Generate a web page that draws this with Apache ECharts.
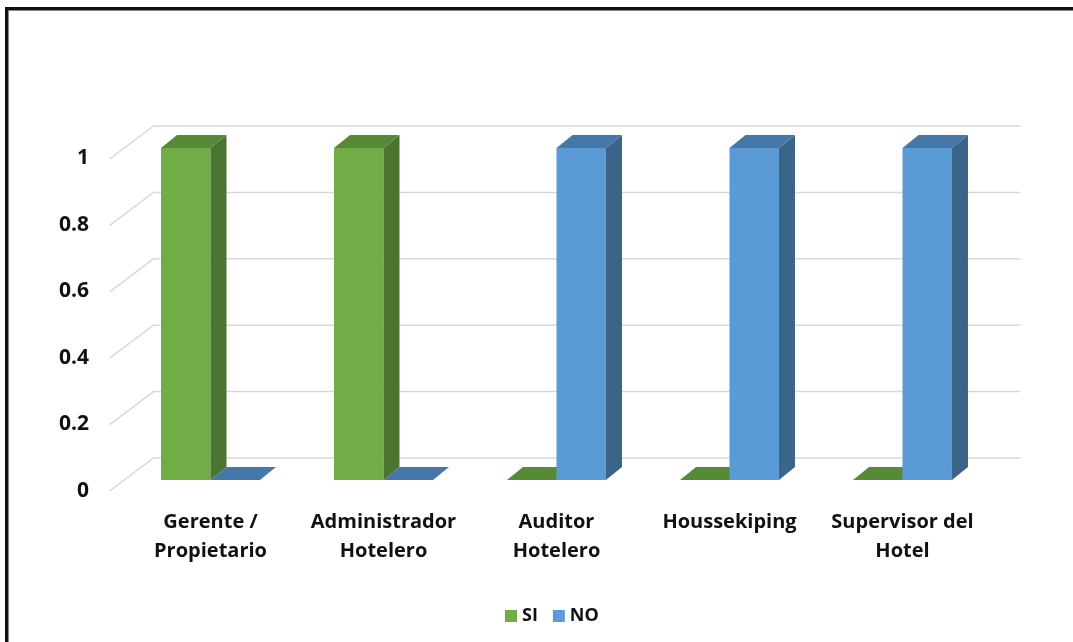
<!DOCTYPE html>
<html>
<head>
<meta charset="utf-8">
<script src="https://cdn.jsdelivr.net/npm/echarts@6/dist/echarts.min.js"></script>
<style>
  html, body { margin: 0; padding: 0; background: #fff; }
  #chart { position: absolute; left: 0; top: 0; width: 1073px; height: 642px; }
  #frame {
    position: absolute; left: 5px; top: 7px; right: 0; bottom: 0;
    border-top: 3px solid #111; border-left: 3px solid #111;
    box-shadow: inset 1px 1px 0 #888; pointer-events: none;
  }
</style>
</head>
<body>
<div id="chart"></div>
<div id="frame"></div>
<script>
// Categories, series and axis ticks
const categories = ['Gerente /\nPropietario', 'Administrador\nHotelero', 'Auditor\nHotelero', 'Houssekiping', 'Supervisor del\nHotel'];
const siValues = [1, 1, 0, 0, 0];
const noValues = [0, 0, 1, 1, 1];
const yTicks = [0, 0.2, 0.4, 0.6, 0.8, 1];

// 3D look: bar width as share of the category band, bar depth, floor depth
const BAR_RATIO = 0.286;
const BAR_DX = 16, BAR_DY = 13;
const FLOOR_FRONT = [-14.3, 11];
const FLOOR_BACK = [29.5, -22];

const FONT = '"Open Sans", Lato, sans-serif';

function barRenderer(side, front, right, topCol) {
  return function (params, api) {
    const i = api.value(0), v = api.value(1);
    const base = api.coord([i, 0]);
    const top = api.coord([i, v]);
    const bw = api.size([1, 0])[0] * BAR_RATIO;
    const x0 = side === 0 ? base[0] - bw : base[0];
    const x1 = x0 + bw;
    const yb = base[1], yt = top[1];
    const children = [];
    if (yb - yt > 0.5) {
      children.push({ type: 'polygon', shape: { points: [[x0, yt], [x1, yt], [x1, yb], [x0, yb]] }, style: { fill: front } });
      children.push({ type: 'polygon', shape: { points: [[x1, yt], [x1 + BAR_DX, yt - BAR_DY], [x1 + BAR_DX, yb - BAR_DY], [x1, yb]] }, style: { fill: right } });
    }
    children.push({ type: 'polygon', shape: { points: [[x0, yt], [x1, yt], [x1 + BAR_DX, yt - BAR_DY], [x0 + BAR_DX, yt - BAR_DY]] }, style: { fill: topCol } });
    return { type: 'group', children: children };
  };
}

// back wall gridlines and floor side lines
function wallRenderer(params, api) {
  const v = api.value(1);
  const cs = params.coordSys;
  const y = api.coord([0, v])[1];
  const bx0 = cs.x + FLOOR_BACK[0], bx1 = cs.x + cs.width + FLOOR_BACK[0] + 2;
  const by = y + FLOOR_BACK[1];
  const fx = cs.x + FLOOR_FRONT[0], fy = y + FLOOR_FRONT[1];
  const st = { stroke: '#d9d9d9', lineWidth: 1.5, fill: null };
  return {
    type: 'group',
    children: [
      { type: 'polyline', shape: { points: [[fx, fy], [bx0, by], [bx1, by]] }, style: st }
    ]
  };
}

const chart = echarts.init(document.getElementById('chart'));
chart.setOption({
  backgroundColor: '#fff',
  animation: false,
  legend: {
    data: ['SI', 'NO'],
    left: 500, top: 602,
    icon: 'rect', itemWidth: 12, itemHeight: 12, itemGap: 15,
    textStyle: { fontFamily: FONT, fontWeight: 'bold', fontSize: 18, color: '#111' }
  },
  grid: [
    { left: 124, right: 84, top: 148, bottom: 162 },
    { left: 110, width: 10, top: 158, bottom: 151 }
  ],
  xAxis: [
    {
      type: 'category', gridIndex: 0, data: categories,
      axisLine: { show: false }, axisTick: { show: false },
      axisLabel: { interval: 0, margin: 28, fontFamily: FONT, fontWeight: 'bold', fontSize: 20, lineHeight: 29, color: '#111' }
    },
    { type: 'value', gridIndex: 1, show: false }
  ],
  yAxis: [
    { type: 'value', gridIndex: 0, min: 0, max: 1, interval: 0.2, show: false },
    {
      type: 'value', gridIndex: 1, min: 0, max: 1, interval: 0.2,
      axisLine: { show: false }, axisTick: { show: false }, splitLine: { show: false },
      axisLabel: { margin: 21, fontFamily: FONT, fontWeight: 'bold', fontSize: 21, color: '#111' }
    }
  ],
  series: [
    {
      name: 'wall', type: 'custom', xAxisIndex: 0, yAxisIndex: 0, silent: true, z: 1,
      renderItem: wallRenderer,
      data: yTicks.map(v => [0, v])
    },
    {
      name: 'SI', type: 'custom', xAxisIndex: 0, yAxisIndex: 0, z: 2,
      itemStyle: { color: '#70ad47' },
      renderItem: barRenderer(0, '#70ad47', '#4b7431', '#568a37'),
      data: siValues.map((v, i) => [i, v])
    },
    {
      name: 'NO', type: 'custom', xAxisIndex: 0, yAxisIndex: 0, z: 3,
      itemStyle: { color: '#5b9bd5' },
      renderItem: barRenderer(1, '#5b9bd5', '#3a6488', '#4577a8'),
      data: noValues.map((v, i) => [i, v])
    }
  ]
});
</script>
</body>
</html>
